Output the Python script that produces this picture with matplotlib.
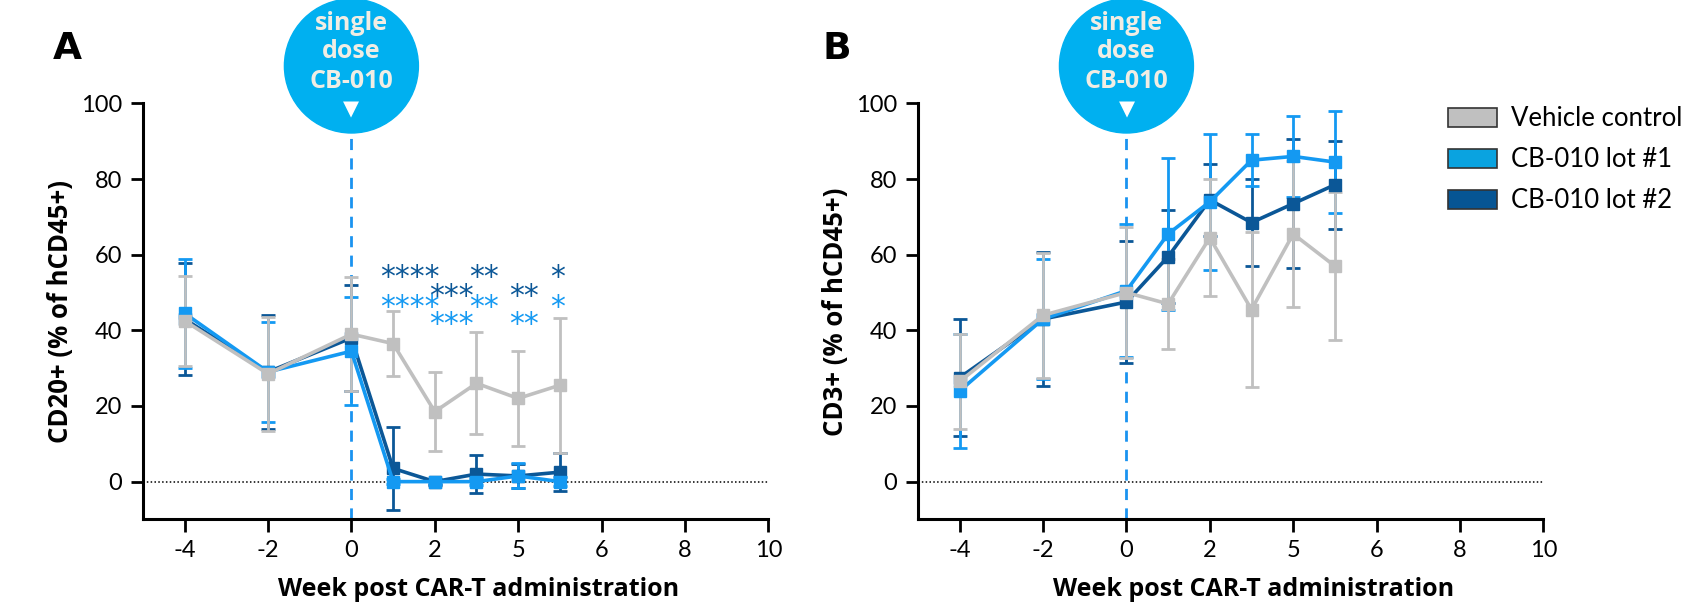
import numpy as np
import matplotlib
matplotlib.use("Agg")
import matplotlib.pyplot as plt
from matplotlib.patches import Ellipse

plt.rcParams['font.family'] = ['Lato', 'DejaVu Sans']

weeks = [-4, -2, 0, 1, 2, 3, 4, 5]
tick_pos = [-4, -2, 0, 2, 4, 6, 8, 10]
tick_lab = ['-4', '-2', '0', '2', '5', '6', '8', '10']

series = ['Vehicle control', 'CB-010 lot #1', 'CB-010 lot #2']
colors = ['#c0c0c0', '#1499f2', '#0b5797']
legend_fill = ['#c0c0c0', '#0aa3e0', '#065594']

# panel A: CD20+
cd20_veh = [42.5, 28.5, 39.0, 36.5, 18.5, 26.0, 22.0, 25.5]
cd20_veh_err = [12.0, 15.0, 15.0, 8.5, 10.5, 13.5, 12.5, 17.8]
cd20_lot1 = [44.5, 29.0, 34.5, 0.0, 0.0, 0.0, 1.5, 0.0]
cd20_lot1_err = [14.5, 13.3, 14.3, 0.6, 0.5, 1.0, 3.3, 1.2]
cd20_lot2 = [43.0, 29.0, 38.0, 3.5, 0.0, 2.0, 1.5, 2.5]
cd20_lot2_err = [14.8, 15.0, 14.0, 11.0, 0.8, 5.0, 3.2, 5.0]

# panel B: CD3+
cd3_veh = [26.5, 44.0, 50.0, 47.0, 64.5, 45.5, 65.5, 57.0]
cd3_veh_err = [12.5, 16.5, 17.3, 12.0, 15.5, 20.5, 19.3, 19.5]
cd3_lot1 = [24.0, 43.0, 50.5, 65.5, 74.0, 85.0, 86.0, 84.5]
cd3_lot1_err = [15.0, 15.8, 17.5, 20.0, 18.0, 6.8, 10.8, 13.5]
cd3_lot2 = [27.5, 43.0, 47.5, 59.5, 74.5, 68.5, 73.5, 78.5]
cd3_lot2_err = [15.5, 17.8, 16.0, 12.3, 9.5, 11.5, 17.0, 11.7]

# significance marks (panel A)
stars_txt = ['****', '***', '**', '**', '*']
stars_x = [1.4, 2.4, 3.17, 4.15, 4.95]
stars_dark_y = [56, 51, 56, 51, 56]
stars_light_y = [48.3, 43.7, 48.3, 43.7, 48.3]

fig = plt.figure(figsize=(16.9, 6.04), dpi=100)
axA = fig.add_axes([0.0846, 0.140, 0.370, 0.6887])
axB = fig.add_axes([0.5432, 0.140, 0.370, 0.6887])


def panel(ax, data, ylabel, letter, loff):
    for (y, e), c in zip(data[::-1], colors[::-1]):
        ax.errorbar(weeks, y, yerr=e, color=c, lw=2.6, marker='s', ms=8,
                    elinewidth=2.0, capsize=5, capthick=2.0, zorder=3)
    ax.plot([-5, 10], [0, 0], ls=(0, (1, 1.5)), color='black', lw=1.1, zorder=1)
    ax.set_xlim(-5, 10)
    ax.set_ylim(-10, 100)
    ax.set_xticks(tick_pos)
    ax.set_xticklabels(tick_lab)
    ax.set_yticks([0, 20, 40, 60, 80, 100])
    for s in ['top', 'right']:
        ax.spines[s].set_visible(False)
    for s in ['left', 'bottom']:
        ax.spines[s].set_linewidth(2.2)
    ax.tick_params(width=2.0, length=9, labelsize=17, pad=6)
    ax.set_ylabel(ylabel, fontsize=18.5, fontweight='bold', labelpad=5,
                  family=['Open Sans'])
    ax.set_xlabel('Week post CAR-T administration', fontsize=18, x=0.536,
                  fontweight='bold', labelpad=11, family=['Open Sans'])
    # dashed dose line
    ax.plot([0, 0], [-10, 93], ls=(0, (4, 3)), color='#1a93f0', lw=2.0,
            clip_on=False, zorder=2)
    # bubble
    fx, _ = fig.transFigure.inverted().transform(ax.transData.transform((0, 0)))
    bub = Ellipse((fx, 1 - 66 / 604), 134 / 1690, 134 / 604,
                  transform=fig.transFigure, color='#00b0f0', zorder=5)
    fig.add_artist(bub)
    for txt, py in zip(['single', 'dose', 'CB-010'], [23, 52, 81]):
        fig.text(fx, 1 - py / 604, txt, ha='center', va='center', fontsize=18,
                 fontweight='bold', color='#f0ede4', zorder=6,
                 family=['Open Sans'])
    fig.text(fx, 1 - 109 / 604, '▼', ha='center', va='center', fontsize=15,
             color='white', family=['DejaVu Sans'], zorder=6)
    pos = ax.get_position()
    fig.text(pos.x0 + loff, 1 - 49 / 604, letter, fontsize=27,
             fontweight='bold', va='center', ha='center',
             family=['DejaVu Sans'])


panel(axA, [(cd20_veh, cd20_veh_err), (cd20_lot1, cd20_lot1_err),
            (cd20_lot2, cd20_lot2_err)], 'CD20+ (% of hCD45+)', 'A', -0.045)
panel(axB, [(cd3_veh, cd3_veh_err), (cd3_lot1, cd3_lot1_err),
            (cd3_lot2, cd3_lot2_err)], 'CD3+ (% of hCD45+)', 'B', -0.048)

for t, x, yd, yl in zip(stars_txt, stars_x, stars_dark_y, stars_light_y):
    axA.text(x, yd - 4.4, t, ha='center', va='baseline', fontsize=21.5,
             color=colors[2], family=['DejaVu Sans'])
    axA.text(x, yl - 4.4, t, ha='center', va='baseline', fontsize=21.5,
             color=colors[1], family=['DejaVu Sans'])

handles = [plt.Rectangle((0, 0), 1, 1, facecolor=f, edgecolor='#333333', lw=1.2)
           for f in legend_fill]
fig.legend(handles, series, loc='upper left', bbox_to_anchor=(0.843, 0.862),
           frameon=False, fontsize=18.5, handlelength=1.9, handleheight=0.8,
           labelspacing=0.62, handletextpad=0.55)

fig.savefig('out.png', dpi=100)
